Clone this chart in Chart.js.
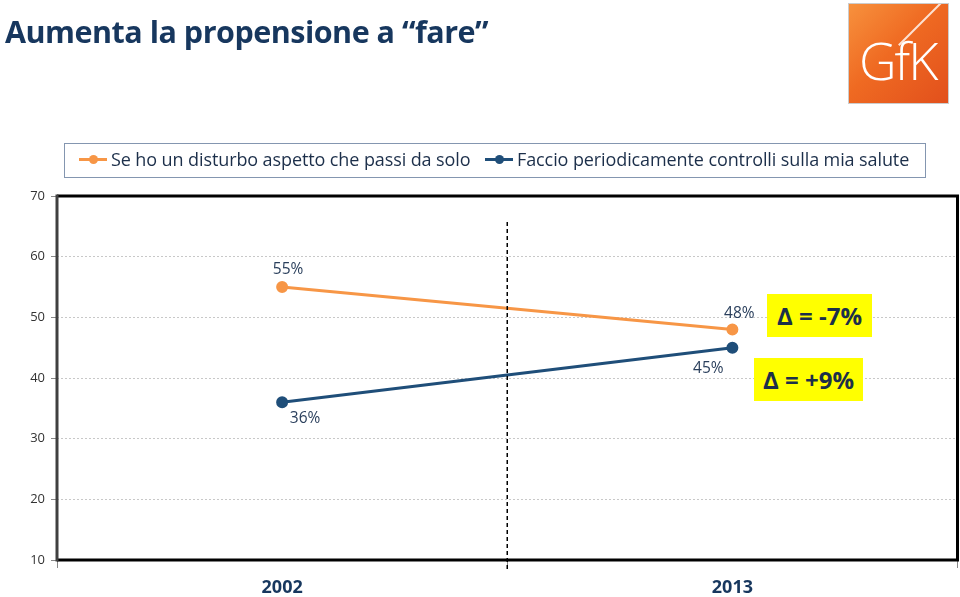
<!DOCTYPE html>
<html>
<head>
<meta charset="utf-8">
<script src="https://cdn.jsdelivr.net/npm/chart.js@4"></script>
<style>
  body { margin: 0; background: #fff; }
  #wrap { position: relative; width: 960px; height: 597px; overflow: hidden; }
  #c { position: absolute; left: 0; top: 0; }
  .title { position: absolute; left: 5px; top: 10px; font: bold 30.5px "Open Sans", sans-serif; color: #17375e; letter-spacing: -0.5px; white-space: nowrap; }
  .logo { position: absolute; left: 848px; top: 3px; width: 99px; height: 99px; border: 1px solid #ccc;
          background: linear-gradient(135deg, #f7913d 0%, #ef6a22 45%, #e2501c 100%); overflow: hidden; }
  .logo span { position: absolute; left: 10px; top: 20px; font: 300 52px "Open Sans", sans-serif; color: #fff; letter-spacing: -2px; }
  .logo i { position: absolute; left: 70px; top: -10px; width: 2px; height: 60px; background: rgba(255,255,255,0.8); transform: rotate(45deg); }
  .legend { position: absolute; left: 64px; top: 143px; width: 862px; height: 35px; border: 1px solid #8496b0; box-sizing: border-box; }
  .item { position: absolute; top: 3px; font: 18px "Open Sans", sans-serif; color: #1c2f4a; white-space: nowrap; letter-spacing: -0.1px; }
  .mk { display: inline-block; position: relative; width: 28px; height: 3px; vertical-align: middle; margin-right: 4px; top: -2px; }
  .mk b { position: absolute; left: 10px; top: -3px; width: 9px; height: 9px; border-radius: 50%; }
  .delta { position: absolute; background: #ffff00; font: bold 24px "Open Sans", sans-serif; color: #1c2f4a; text-align: center; }
</style>
</head>
<body>
<div id="wrap">
  <canvas id="c" width="965" height="597"></canvas>
  <div class="title">Aumenta la propensione a “fare”</div>
  <div class="logo"><i></i><span>GfK</span></div>
  <div class="legend" id="legend"></div>
  <div class="delta" style="left:767px; top:294px; width:105px; height:43px; line-height:43px;">Δ = -7%</div>
  <div class="delta" style="left:754px; top:358px; width:109px; height:43px; line-height:43px;">Δ = +9%</div>
</div>
<script>
const anni = ['2002', '2013'];
const nomiSerie = ['Se ho un disturbo aspetto che passi da solo', 'Faccio periodicamente controlli sulla mia salute'];
const aspetto = [55, 48];
const controlli = [36, 45];
const yMin = 10, yMax = 70, yPasso = 10;

const arancio = '#f79646';
const blu = '#1f4e79';

// legenda html con riquadro
const legenda = document.getElementById('legend');
const coloriLegenda = [arancio, blu];
const xLegenda = [14, 420];
nomiSerie.forEach((nome, i) => {
  const d = document.createElement('div');
  d.className = 'item';
  d.style.left = xLegenda[i] + 'px';
  d.innerHTML = '<span class="mk" style="background:' + coloriLegenda[i] + '"><b style="background:' + coloriLegenda[i] + '"></b></span>' + nome;
  legenda.appendChild(d);
});

// etichette percentuali, spostate come nell'originale
const spostamenti = [
  [[6, -17], [7, -16]],
  [[23, 16], [-24, 21]]
];

const extra = {
  id: 'extra',
  afterDatasetsDraw(chart) {
    const { ctx, chartArea: a, scales: { x } } = chart;
    ctx.save();
    // linea tratteggiata tra i due anni
    const xm = (x.getPixelForValue(0) + x.getPixelForValue(1)) / 2;
    ctx.strokeStyle = '#000';
    ctx.lineWidth = 1.5;
    ctx.setLineDash([4, 3]);
    ctx.beginPath();
    ctx.moveTo(xm, a.top + 26);
    ctx.lineTo(xm, a.bottom + 10);
    ctx.stroke();
    ctx.setLineDash([]);
    // cornice
    ctx.lineWidth = 3;
    ctx.strokeStyle = '#000';
    ctx.beginPath();
    ctx.moveTo(a.left, a.top); ctx.lineTo(a.right, a.top);
    ctx.lineTo(a.right, a.bottom); ctx.lineTo(a.left, a.bottom);
    ctx.stroke();
    ctx.strokeStyle = '#404040';
    ctx.beginPath();
    ctx.moveTo(a.left, a.top - 1.5); ctx.lineTo(a.left, a.bottom + 1.5);
    ctx.stroke();
    // etichette
    ctx.font = '15.5px "Open Sans", sans-serif';
    ctx.fillStyle = '#2a3f5c';
    ctx.textAlign = 'center';
    ctx.textBaseline = 'middle';
    chart.data.datasets.forEach((ds, i) => {
      chart.getDatasetMeta(i).data.forEach((p, j) => {
        const [dx, dy] = spostamenti[i][j];
        ctx.fillText(ds.data[j] + '%', p.x + dx, p.y + dy);
      });
    });
    ctx.restore();
  }
};

new Chart(document.getElementById('c').getContext('2d'), {
  type: 'line',
  data: {
    labels: anni,
    datasets: [
      { label: nomiSerie[0], data: aspetto, borderColor: arancio, backgroundColor: arancio, borderWidth: 3, pointRadius: 4.5, pointHoverRadius: 4.5 },
      { label: nomiSerie[1], data: controlli, borderColor: blu, backgroundColor: blu, borderWidth: 3, pointRadius: 4.5, pointHoverRadius: 4.5 }
    ]
  },
  options: {
    responsive: false,
    animation: false,
    layout: { padding: { top: 196, left: 0, right: 0, bottom: 0 } },
    plugins: { legend: { display: false }, tooltip: { enabled: false } },
    scales: {
      x: {
        offset: true,
        grid: { offset: true, drawOnChartArea: false, drawTicks: true, tickLength: 8, color: '#888' },
        border: { display: false },
        ticks: { padding: 9, color: '#17375e', font: { family: '"Open Sans", sans-serif', size: 18, weight: 'bold' } },
        afterFit(s) { s.height = 37; }
      },
      y: {
        min: yMin, max: yMax,
        ticks: { stepSize: yPasso, padding: 6, color: '#333', font: { family: '"Open Sans", sans-serif', size: 13 } },
        grid: { color: '#c8c8c8', tickLength: 6, tickColor: '#888' },
        border: { display: false, dash: [2, 2] },
        afterFit(s) { s.width = 57; }
      }
    }
  },
  plugins: [extra]
});
</script>
</body>
</html>
